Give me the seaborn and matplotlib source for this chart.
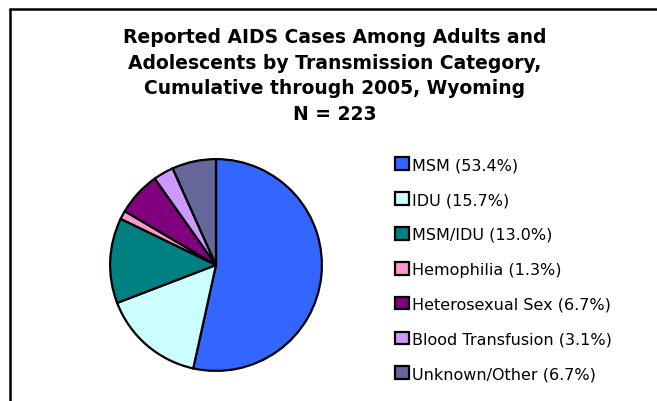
import matplotlib
matplotlib.use("Agg")
import matplotlib.pyplot as plt
import seaborn as sns
from matplotlib.patches import Patch
from matplotlib.lines import Line2D

# data
categories = ["MSM", "IDU", "MSM/IDU", "Hemophilia", "Heterosexual Sex",
              "Blood Transfusion", "Unknown/Other"]
percents = [53.4, 15.7, 13.0, 1.3, 6.7, 3.1, 6.7]
colors = ["#3366FF", "#CCFFFF", "#008080", "#FF99CC", "#800080", "#CC99FF", "#666699"]
title_lines = ["Reported AIDS Cases Among Adults and",
               "Adolescents by Transmission Category,",
               "Cumulative through 2005, Wyoming",
               "N = 223"]

sns.set_theme(style="white")
plt.rcParams["font.family"] = ["DejaVu Sans"]

W, H = 657, 402
fig = plt.figure(figsize=(W / 100, H / 100), dpi=100)
fig.patch.set_facecolor("white")

# frame (left and top edges visible, the rest runs off the picture)
fig.add_artist(Line2D([10 / W, 10 / W], [0, 1 - 10 / H], transform=fig.transFigure,
                      color="black", lw=1.8))
fig.add_artist(Line2D([10 / W, 1], [1 - 10 / H, 1 - 10 / H], transform=fig.transFigure,
                      color="black", lw=1.8))

# title
for i, line in enumerate(title_lines):
    fig.text(335 / W, 1 - (37.5 + 25.6 * i) / H, line, ha="center", va="center",
             fontsize=13.5, fontweight="bold", color="black")

# pie
cx, cy, r = 216, 266, 108
ax = fig.add_axes([(cx - r) / W, (H - cy - r) / H, 2 * r / W, 2 * r / H])
ax.pie(percents, colors=colors, startangle=90, counterclock=False,
       wedgeprops=dict(edgecolor="black", linewidth=1.6))
ax.set_xlim(-1.02, 1.02)
ax.set_ylim(-1.02, 1.02)
ax.set_aspect("equal")
ax.axis("off")

# legend
handles = [Patch(facecolor=c, edgecolor="black", linewidth=1.6) for c in colors]
labels = [f"{c} ({p:.1f}%)" for c, p in zip(categories, percents)]
leg = fig.legend(handles, labels, loc="upper left", bbox_to_anchor=(389 / W, 1 - 152 / H),
                 frameon=False, fontsize=11.5, handlelength=0.85, handleheight=0.85,
                 handletextpad=0.2, labelspacing=1.24, borderaxespad=0)
for t in leg.get_texts():
    t.set_color("black")

fig.savefig("out.png", dpi=100)
